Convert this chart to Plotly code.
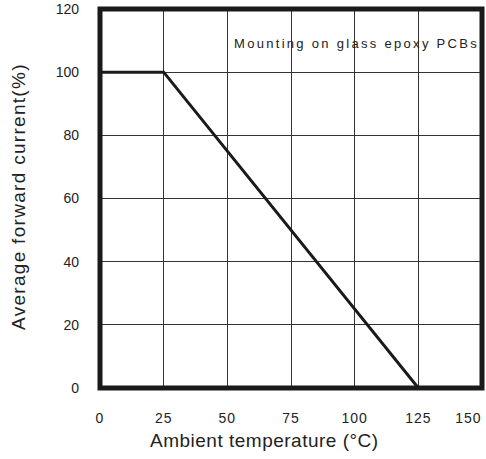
import plotly.graph_objects as go

temp = [0, 25, 125]
current = [100, 100, 0]
x_ticks = [0, 25, 50, 75, 100, 125, 150]
x_tick_labels = ["0", "25", "50", "75", "100", "125", "150"]
y_ticks = [0, 20, 40, 60, 80, 100, 120]
note = "Mounting on glass epoxy PCBs"
x_title = "Ambient temperature (°C)"
y_title = "Average forward current(%)"

FONT = "Liberation Sans, Arial"

# the last x label sits inside the right edge as in the reference
x_text = [f'<span style="letter-spacing:1px">{t}</span>' for t in x_tick_labels]
x_text[-1] = x_text[-1] + "&nbsp;" * 7

fig = go.Figure()
fig.add_trace(go.Scatter(x=temp, y=current, mode="lines",
                         line=dict(color="#1a1a1a", width=3), showlegend=False,
                         cliponaxis=False))

# frame
fig.add_shape(type="rect", xref="paper", yref="paper", x0=0, x1=1, y0=0, y1=1,
              line=dict(color="#1a1a1a", width=5), layer="above")

fig.update_layout(
    width=486, height=459,
    margin=dict(l=100, r=4, t=9, b=71, autoexpand=False),
    paper_bgcolor="white", plot_bgcolor="white",
    font=dict(family=FONT, color="#222"),
    xaxis=dict(range=[0, 150], tickvals=x_ticks, ticktext=x_text, showgrid=True,
               gridcolor="#333", gridwidth=1, zeroline=False, automargin=False,
               showline=False, ticks="", ticklabelstandoff=20,
               ticklabeloverflow="allow",
               tickfont=dict(size=14)),
    yaxis=dict(range=[0, 120], tickvals=y_ticks, showgrid=True,
               gridcolor="#333", gridwidth=1, zeroline=False, automargin=False,
               showline=False, ticks="", ticklabelstandoff=20,
               tickfont=dict(size=14)),
)

# plot area: x 100..482 px, y 9..388 px
fig.add_annotation(x=(481 - 100) / 382, y=(388 - 44) / 379, xref="paper", yref="paper",
                   text=f'<span style="letter-spacing:2.3px">{note}</span>', showarrow=False,
                   xanchor="right", yanchor="middle",
                   font=dict(family=FONT, size=13, color="#222"))
fig.add_annotation(x=(264 - 100) / 382, y=-(440 - 388) / 379, xref="paper", yref="paper",
                   text=f'<span style="letter-spacing:0.5px">{x_title}</span>', showarrow=False,
                   xanchor="center", yanchor="middle",
                   font=dict(family=FONT, size=19, color="#222"))
fig.add_annotation(x=-(100 - 18) / 382, y=(388 - 197) / 379, xref="paper", yref="paper",
                   text=f'<span style="letter-spacing:1.3px">{y_title}</span>', showarrow=False,
                   textangle=-90, xanchor="center", yanchor="middle",
                   font=dict(family=FONT, size=19, color="#222"))

fig.write_html("out.html")
